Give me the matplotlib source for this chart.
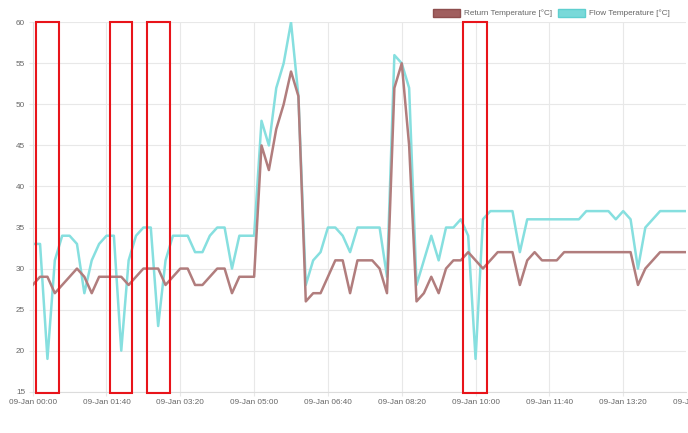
import numpy as np
import matplotlib
matplotlib.use("Agg")
import matplotlib.pyplot as plt
from matplotlib.patches import Patch, Rectangle

# ---- data (10 minute samples starting 09-Jan 00:00) ----
flow_temp = [33, 33, 19, 31, 34, 34, 33, 27, 31, 33,
             34, 34, 20, 31, 34, 35, 35, 23, 31, 34,
             34, 34, 32, 32, 34, 35, 35, 30, 34, 34,
             34, 48, 45, 52, 55, 60, 51, 28, 31, 32,
             35, 35, 34, 32, 35, 35, 35, 35, 29, 56,
             55, 52, 28, 31, 34, 31, 35, 35, 36, 34,
             19, 36, 37, 37, 37, 37, 32, 36, 36, 36,
             36, 36, 36, 36, 36, 37, 37, 37, 37, 36,
             37, 36, 30, 35, 36, 37, 37, 37, 37, 37]

return_temp = [28, 29, 29, 27, 28, 29, 30, 29, 27, 29,
               29, 29, 29, 28, 29, 30, 30, 30, 28, 29,
               30, 30, 28, 28, 29, 30, 30, 27, 29, 29,
               29, 45, 42, 47, 50, 54, 51, 26, 27, 27,
               29, 31, 31, 27, 31, 31, 31, 30, 27, 52,
               55, 45, 26, 27, 29, 27, 30, 31, 31, 32,
               31, 30, 31, 32, 32, 32, 28, 31, 32, 31,
               31, 31, 32, 32, 32, 32, 32, 32, 32, 32,
               32, 32, 28, 30, 31, 32, 32, 32, 32, 32]

sample_step = 10                      # minutes
tick_minutes = [0, 100, 200, 300, 400, 500, 600, 700, 800, 900]
y_ticks = [15, 20, 25, 30, 35, 40, 45, 50, 55, 60]

# highlighted windows (minutes), marked with red boxes
highlights = [(4.5, 35.5), (104.5, 135), (155, 186), (583.5, 615)]

minutes = np.arange(len(flow_temp)) * sample_step

def fmt_time(m):
    return "09-Jan %02d:%02d" % (m // 60, m % 60)

#---- figure:
plt.rcParams['font.family'] = ['Liberation Sans', 'DejaVu Sans']
fig = plt.figure(figsize=(6.88, 4.33), dpi=100)
ax = fig.add_axes([0.0475, 0.0954, 0.9495, 0.8531])

flow_col = '#86dfdf'
ret_col = '#b17d7d'

ax.plot(minutes, return_temp, color=ret_col, lw=1.8, zorder=3)
ax.plot(minutes, flow_temp, color=flow_col, lw=1.8, zorder=2)

x_end = 885
ax.set_xlim(0, x_end)
ax.set_ylim(15, 60)

tick_len, tick_pad, fsize = 3.2, 2.2, 5.9
shown = [m for m in tick_minutes if m <= x_end]
ax.set_xticks(shown)
ax.set_xticklabels([fmt_time(m) for m in shown])
ax.set_yticks(y_ticks)

# the last tick label sits past the plot edge and is cut by the canvas
for m in tick_minutes:
    if m > x_end:
        ax.annotate(fmt_time(m), xy=(m, 0), xycoords=ax.get_xaxis_transform(),
                    xytext=(0, -(tick_len + tick_pad)), textcoords='offset points',
                    ha='center', va='top', fontsize=fsize, color='#666666',
                    annotation_clip=False)

grid_col = '#e8e8e8'
ax.grid(True, color=grid_col, lw=0.8)
ax.set_axisbelow(True)
for s in ['top', 'right']:
    ax.spines[s].set_visible(False)
for s in ['left', 'bottom']:
    ax.spines[s].set_color('#dcdcdc')
    ax.spines[s].set_linewidth(0.8)
ax.tick_params(axis='both', length=tick_len, width=0.8, color=grid_col,
               labelsize=fsize, labelcolor='#666666', pad=tick_pad)

# red highlight boxes
for x0, x1 in highlights:
    r = Rectangle((x0, 14.85), x1 - x0, 60.05 - 14.85, fill=False,
                  edgecolor='#e8141a', lw=1.5, clip_on=False, zorder=5)
    ax.add_patch(r)

handles = [Patch(facecolor='#a05f5f', edgecolor='#8e4e4e', label='Return Temperature [°C]'),
           Patch(facecolor='#79d9d9', edgecolor='#5fcfcf', label='Flow Temperature [°C]')]
fig.legend(handles=handles, loc='upper right', bbox_to_anchor=(0.984, 0.997),
           ncol=2, frameon=False, fontsize=fsize, labelcolor='#666666',
           handlelength=3.4, handleheight=1.1, handletextpad=0.4,
           columnspacing=0.7)

plt.savefig("out.png", dpi=100)
